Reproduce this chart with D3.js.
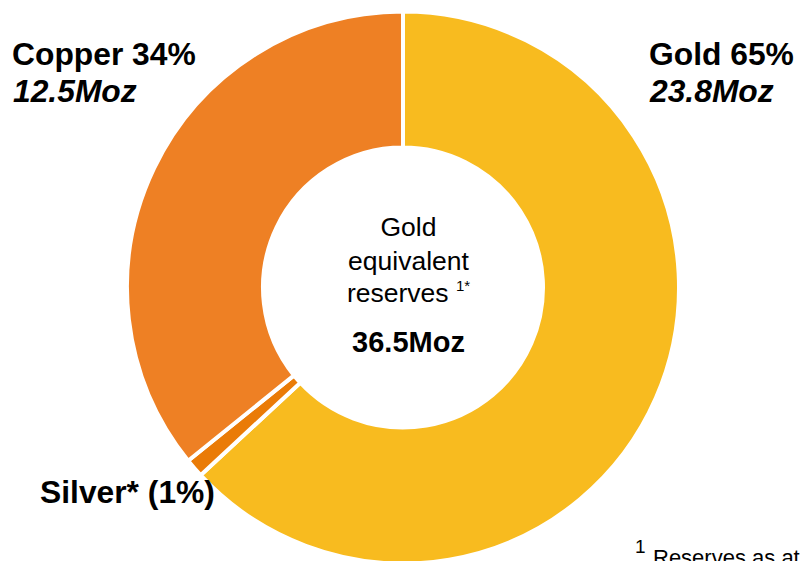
<!DOCTYPE html>
<html lang='en'>
  <head>
    <meta charset='utf-8'>
    <title>Gold equivalent reserves</title>
    <script src='https://d3js.org/d3.v7.min.js'></script>
    <style>
      html, body {
        margin: 0;
        padding: 0;
        background: #fff;
        overflow: hidden;
      }
      svg text {
        font-family: 'Liberation Sans', Arial, sans-serif;
        fill: #000;
      }
    </style>
  </head>
  <body>
    <div class='vis'></div>
    <script>
      // data (clockwise from 12 o'clock)
      const categories = ['Gold', 'Silver', 'Copper'];
      const shares = [63.1, 1.1, 35.8];           // slice sizes as drawn on the ring
      const percentLabels = ['65%', '(1%)', '34%'];
      const ounces = ['23.8Moz', null, '12.5Moz'];
      const totalLabel = '36.5Moz';
      const colors = ['#f8bb1f', '#ea7b07', '#ee8024'];

      const width = 800;
      const height = 561;
      const cx = 403;
      const cy = 287.5;
      const outerR = 276;
      const innerR = 140;

      const svg = d3.select('.vis')
        .append('svg')
          .attr('width', width)
          .attr('height', height);

      const pie = d3.pie().sort(null).value((d) => d.value);
      const arc = d3.arc().innerRadius(innerR).outerRadius(outerR);

      const data = categories.map((c, i) => ({name: c, value: shares[i], color: colors[i]}));

      const ring = svg.append('g')
        .attr('transform', 'translate(' + cx + ',' + cy + ')');

      ring.selectAll('path')
        .data(pie(data))
        .enter().append('path')
          .attr('d', arc)
          .attr('fill', (d) => d.data.color)
          .attr('stroke', '#fff')
          .attr('stroke-width', 4)
          .attr('stroke-linejoin', 'miter');

      // outside labels
      const labelPos = {
        Gold: {x: 649, y: 65},
        Copper: {x: 12, y: 65},
        Silver: {x: 40, y: 503}
      };

      data.forEach((d, i) => {
        const p = labelPos[d.name];
        svg.append('text')
          .attr('x', p.x)
          .attr('y', p.y)
          .style('font-size', '31.8px')
          .style('font-weight', 'bold')
          .text(d.name + (d.name === 'Silver' ? '* ' : ' ') + percentLabels[i]);
        if (ounces[i]) {
          svg.append('text')
            .attr('x', p.x + 1)
            .attr('y', p.y + 37)
            .style('font-size', '31.8px')
            .style('font-weight', 'bold')
            .style('font-style', 'italic')
            .text(ounces[i]);
        }
      });

      // centre text
      const mid = 408.5;
      const centreLines = ['Gold', 'equivalent'];
      centreLines.forEach((s, i) => {
        svg.append('text')
          .attr('x', mid).attr('y', 236 + i * 34)
          .attr('text-anchor', 'middle')
          .style('font-size', '26.5px')
          .text(s);
      });
      const res = svg.append('text')
        .attr('x', mid).attr('y', 302)
        .attr('text-anchor', 'middle')
        .style('font-size', '26.5px');
      res.append('tspan').text('reserves ');
      res.append('tspan')
        .attr('dy', -11)
        .style('font-size', '15px')
        .text('1*');
      svg.append('text')
        .attr('x', mid).attr('y', 352)
        .attr('text-anchor', 'middle')
        .style('font-size', '29px')
        .style('font-weight', 'bold')
        .text(totalLabel);

      // footnote, cut by the bottom edge as in the source
      svg.append('text')
        .attr('x', 635).attr('y', 553)
        .style('font-size', '19px')
        .text('1');
      svg.append('text')
        .attr('x', 653).attr('y', 565)
        .style('font-size', '22px')
        .text('Reserves as at');
    </script>
  </body>
</html>
